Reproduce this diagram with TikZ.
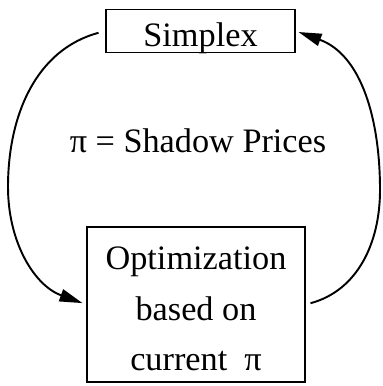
\documentclass[tikz,border=0pt]{standalone}
\usepackage{fontspec}
\setmainfont{Liberation Serif}
\usetikzlibrary{arrows.meta}

\begin{document}
\begin{tikzpicture}[
  box/.style={draw, line width=0.8pt, inner sep=0pt, font=\fontsize{19.5}{28.8}\selectfont},
  loop/.style={line width=1.1pt, -{Triangle[length=4.6mm,width=2.5mm]}}
]

% Fix the page size
\useasboundingbox (0,0) rectangle (7.64,-7.72);

% Define the bends of the two curved arrows
\coordinate (L) at (0.16,-3.74);
\coordinate (R) at (7.60,-3.80);

% Draw the two boxes
\node[box, minimum width=3.78cm, minimum height=0.86cm]
      (simplex) at (4.01,-0.62) {\raisebox{-9pt}[0pt][0pt]{Simplex}};
\node[box, minimum width=4.36cm, minimum height=3.10cm, align=center]
      (opt) at (3.92,-6.09) {\rule{0pt}{0.64cm}Optimization\\based on\\current\hspace{0.5em}π};

% Add the label in the middle
\node[font=\fontsize{19.5}{24}\selectfont] (shadow) at (3.96,-2.82) {π = Shadow Prices};

% Draw the curved arrows
\draw[loop, shorten <=0.14cm, shorten >=0.08cm]
  (simplex.west) to[out=195,in=90] (L) to[out=-90,in=160] (opt.west);
\draw[loop, shorten <=0.10cm, shorten >=0.06cm]
  (opt.east) to[out=15,in=-90] (R) to[out=90,in=-20] (simplex.east);

\end{tikzpicture}
\end{document}
